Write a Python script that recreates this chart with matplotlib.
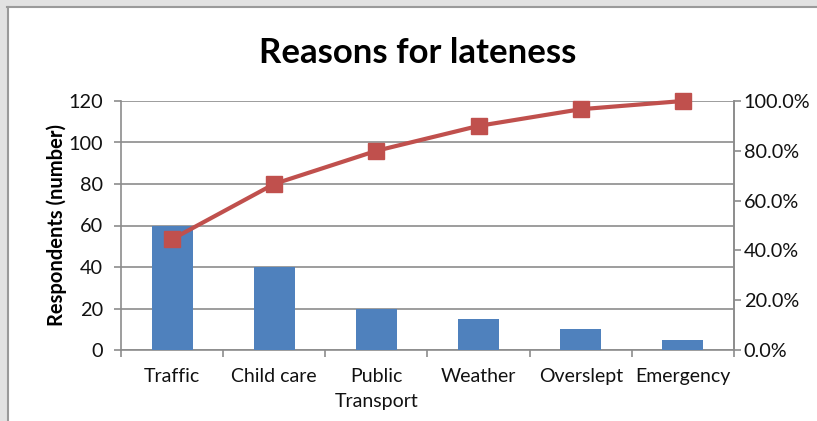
import numpy as np
import matplotlib
matplotlib.use("Agg")
import matplotlib.pyplot as plt
from matplotlib.patches import Rectangle

categories = ["Traffic", "Child care", "Public\nTransport", "Weather", "Overslept", "Emergency"]
respondents = [60, 40, 20, 15, 10, 5]
cumulative_pct = [44.5, 66.7, 80.0, 90.0, 96.7, 100.0]
left_ticks = [0, 20, 40, 60, 80, 100, 120]
right_ticks = [0, 20, 40, 60, 80, 100]

plt.rcParams['font.family'] = ['Lato', 'DejaVu Sans']

fig = plt.figure(figsize=(8.17, 4.21), dpi=100)
fig.patch.set_facecolor("white")

# grey frame along the top and left edge
fig.add_artist(Rectangle((0, 1 - 6/421), 1, 6/421, transform=fig.transFigure, color="#e2e2e2", zorder=0))
fig.add_artist(Rectangle((0, 0), 7/817, 1, transform=fig.transFigure, color="#e2e2e2", zorder=0))
fig.add_artist(plt.Line2D([7/817, 1], [1 - 7/421, 1 - 7/421], transform=fig.transFigure, color="#9a9a9a", lw=1.5))
fig.add_artist(plt.Line2D([7.5/817, 7.5/817], [0, 1 - 7/421], transform=fig.transFigure, color="#9a9a9a", lw=1.5))

ax = fig.add_axes([121/817, 71/421, 613/817, 249/421])
x = np.arange(len(categories))
ax.bar(x, respondents, width=0.4, color="#4F81BD", zorder=3)
ax.set_xlim(-0.5, len(categories) - 0.5)
ax.set_ylim(0, 120)
ax.set_yticks(left_ticks)
ax.yaxis.grid(True, color="#8c8c8c", lw=1.2, zorder=0)
ax.set_axisbelow(True)
ax.set_xticks(x)
ax.set_xticklabels(categories, fontsize=14, color="#111111", linespacing=1.55)
ax.set_xticks(np.arange(-0.5, len(categories)), minor=True)
ax.tick_params(axis="x", which="major", length=0, pad=13)
ax.tick_params(axis="x", which="minor", length=5, color="#8c8c8c", width=1.2)
ax.tick_params(axis="y", length=5, color="#8c8c8c", width=1.2, labelsize=14.3, pad=8, labelcolor="#111111")
for s in ["left", "bottom", "right"]:
    ax.spines[s].set_color("#8c8c8c")
    ax.spines[s].set_linewidth(1.2)
ax.spines["top"].set_visible(False)
ax.set_ylabel("Respondents (number)", fontsize=14.5, fontweight="bold")
ax.yaxis.set_label_coords(-0.088, 0.5)

ax2 = ax.twinx()
ax2.plot(x, cumulative_pct, color="#C0504D", lw=3, marker="s", markersize=11, zorder=5, clip_on=False)
ax2.set_ylim(0, 100)
ax2.set_yticks(right_ticks)
ax2.set_yticklabels([f"{t:.1f}%" for t in right_ticks])
ax2.tick_params(axis="y", length=5, color="#8c8c8c", width=1.2, labelsize=14.3, pad=2, labelcolor="#111111")
for s in ["left", "bottom", "top"]:
    ax2.spines[s].set_visible(False)
ax2.spines["right"].set_color("#8c8c8c")
ax2.spines["right"].set_linewidth(1.2)

fig.text(418/817, 1 - 53/421, "Reasons for lateness", ha="center", va="center",
         fontsize=25, fontweight="bold")

fig.savefig("out.png", dpi=100)
